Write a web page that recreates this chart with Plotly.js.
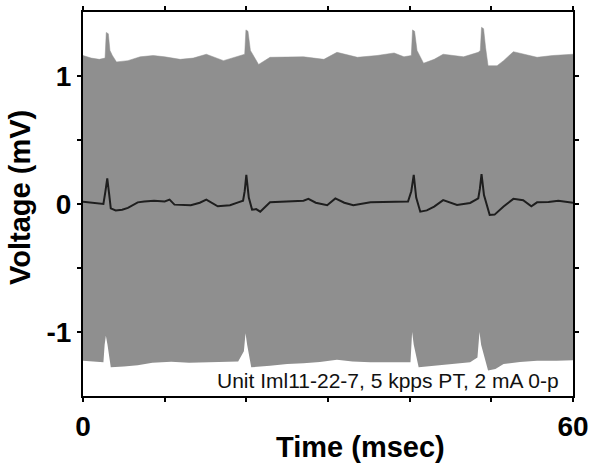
<!DOCTYPE html>
<html>
<head>
<meta charset="utf-8">
<script src="https://cdn.plot.ly/plotly-3.0.1.min.js"></script>
<style>html,body{margin:0;padding:0;background:#fff;}#chart{width:600px;height:473px;}</style>
</head>
<body>
<div id="chart"></div>
<script>
// Stimulus artifact envelope (mV) vs time (ms)
const upperT = [0,1,2,2.7,2.85,3.1,3.3,3.6,4.1,5.5,7,8.6,10,11.9,13.5,15.1,17.2,19.2,19.8,19.95,20.2,20.5,21.5,22.9,25,27,29.5,31.1,33.6,36,38.1,39.3,40.2,40.35,40.6,40.9,41.7,43,44.1,46.6,48.4,48.65,48.8,49.05,49.3,49.6,50.7,51.5,52.7,54,55.6,57.5,60];
const upperV = [1.16,1.14,1.13,1.14,1.34,1.33,1.2,1.16,1.11,1.12,1.15,1.16,1.15,1.13,1.14,1.17,1.12,1.16,1.17,1.36,1.35,1.2,1.09,1.146,1.15,1.15,1.13,1.185,1.146,1.16,1.18,1.15,1.16,1.36,1.35,1.2,1.10,1.13,1.17,1.15,1.185,1.2,1.38,1.37,1.22,1.08,1.08,1.12,1.19,1.17,1.146,1.16,1.17];
const lowerT = [0,1.5,2.5,2.65,2.8,3.0,3.4,5,6.7,8.5,10.8,13,14.9,17,19.0,19.7,19.9,20.1,20.6,22.9,25,27,29,31.1,33,35.2,38,40.1,40.3,40.5,41.1,43.3,45.5,47.4,48.3,48.55,48.75,49.6,50.5,51.5,53.5,55.6,58,60];
const lowerV = [-1.224,-1.23,-1.237,-1.10,-1.03,-1.1,-1.276,-1.27,-1.26,-1.24,-1.232,-1.24,-1.237,-1.23,-1.23,-1.15,-1.01,-1.1,-1.276,-1.263,-1.25,-1.245,-1.235,-1.216,-1.23,-1.237,-1.235,-1.237,-1.0,-1.1,-1.276,-1.263,-1.245,-1.237,-1.20,-1.0,-1.1,-1.30,-1.29,-1.25,-1.235,-1.224,-1.225,-1.22];
// Neural response (artifact removed)
const respT = [0,1,2,2.5,2.75,2.97,3.2,3.4,4,4.8,5.5,6.7,7.5,8.7,10,10.6,11.2,12,13.2,14.3,15.1,16.5,18,19,19.6,19.8,20.0,20.3,20.7,21.2,21.7,22.9,25,27,27.6,28.5,29.9,30.9,32,33.1,35.2,37,38,39.8,40.2,40.5,40.8,41.3,42.1,43,44.1,45.8,47.4,48.4,48.6,48.8,49.1,49.8,50.4,51.5,52.7,53.9,54.9,55.6,57,58.2,60];
const respV = [0.018,0.01,0.0,0.0,0.1,0.2,0.08,-0.034,-0.05,-0.045,-0.03,0.013,0.02,0.026,0.02,0.034,-0.005,-0.005,-0.01,0.01,0.034,-0.018,-0.01,0.013,0.026,0.1,0.227,0.05,-0.044,-0.04,-0.06,0.013,0.02,0.026,0.04,0.01,-0.01,0.044,0.01,-0.01,0.013,0.015,0.02,0.02,0.1,0.227,0.05,-0.06,-0.05,-0.02,0.03,-0.008,0.008,0.044,0.12,0.234,0.07,-0.086,-0.083,-0.02,0.04,0.03,-0.018,0.013,0.015,0.026,0.01];

const xTickVals = [0,10,20,30,40,50,60];
const xTickText = ['0','','','','','','60'];
const yTickVals = [-1,-0.5,0,0.5,1];
const yTickText = ['-1','','0','','1'];

const bandColor = '#8f8f8f';
const traces = [
  {x: lowerT, y: lowerV, mode: 'lines', line: {width: 0, color: bandColor}, hoverinfo: 'skip', showlegend: false},
  {x: upperT, y: upperV, mode: 'lines', line: {width: 0.5, color: bandColor}, fill: 'tonexty', fillcolor: bandColor, hoverinfo: 'skip', showlegend: false},
  {x: respT, y: respV, mode: 'lines', line: {width: 2, color: '#1e1e1e'}, showlegend: false}
];

const axisCommon = {
  showgrid: false, zeroline: false, showline: true, linecolor: '#000', linewidth: 2,
  mirror: 'ticks', ticks: 'outside', ticklen: 4, tickwidth: 2, tickcolor: '#000',
  tickfont: {family: 'Liberation Sans, Arial, sans-serif', size: 28, color: '#000', weight: 'bold'}
};

const layout = {
  width: 600, height: 473,
  margin: {l: 83, r: 27, t: 12, b: 77},
  paper_bgcolor: '#fff', plot_bgcolor: '#fff',
  xaxis: Object.assign({}, axisCommon, {range: [0, 60], tickmode: 'array', tickvals: xTickVals, ticktext: xTickText}),
  yaxis: Object.assign({}, axisCommon, {range: [-1.5, 1.5], tickmode: 'array', tickvals: yTickVals, ticktext: yTickText}),
  annotations: [
    {text: 'Unit Iml11-22-7, 5 kpps PT, 2 mA 0-p', xref: 'x', yref: 'y', x: 58.5, y: -1.375, xanchor: 'right', yanchor: 'middle', showarrow: false,
     font: {family: 'Liberation Sans, Arial, sans-serif', size: 21, color: '#111'}},
    {text: '<b>Time (msec)</b>', xref: 'paper', yref: 'paper', x: 0.567, y: -0.133, xanchor: 'center', yanchor: 'middle', showarrow: false,
     font: {family: 'Liberation Sans, Arial, sans-serif', size: 29, color: '#000'}},
    {text: '<b>Voltage (mV)</b>', xref: 'paper', yref: 'paper', x: -0.129, y: 0.518, xanchor: 'center', yanchor: 'middle', textangle: -90, showarrow: false,
     font: {family: 'Liberation Sans, Arial, sans-serif', size: 29, color: '#000'}}
  ]
};

Plotly.newPlot('chart', traces, layout, {staticPlot: true, displayModeBar: false});
</script>
</body>
</html>
